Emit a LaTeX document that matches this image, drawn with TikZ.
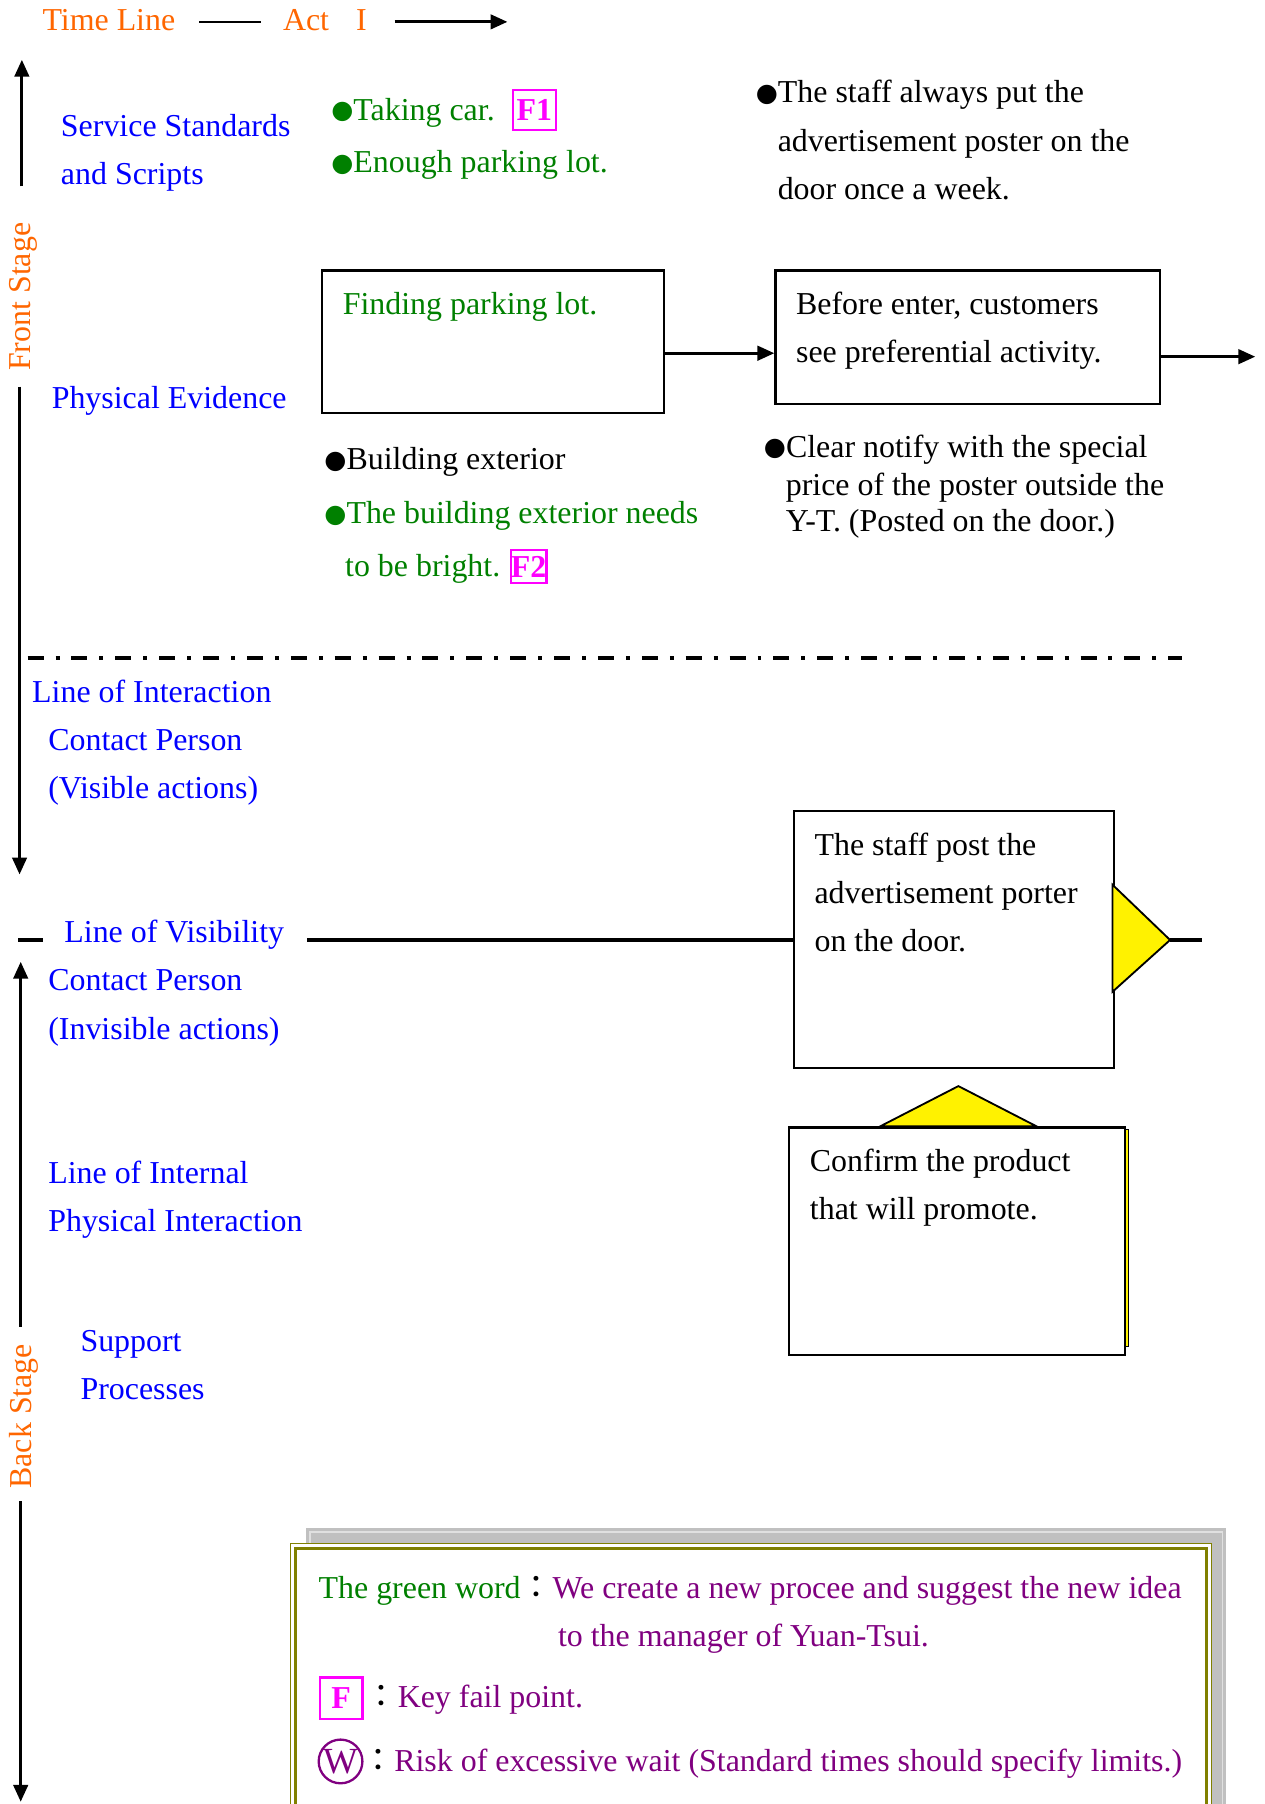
\documentclass[tikz,border=0pt]{standalone}
\usepackage{fontspec}
\setmainfont{Liberation Serif}
\newfontfamily\cjk{Noto Sans CJK TC}
\newfontfamily\sym{DejaVu Sans}
\newcommand\bul{\raisebox{0.8pt}{\sym\fontsize{16.5}{16.5}\selectfont ●}}
\usetikzlibrary{arrows.meta}

\definecolor{tlorange}{RGB}{255,102,0}
\definecolor{lblblue}{RGB}{0,0,255}
\definecolor{wgreen}{RGB}{0,128,0}
\definecolor{fmagenta}{RGB}{255,0,255}
\definecolor{legpurple}{RGB}{128,0,128}
\definecolor{legolive}{RGB}{128,128,0}
\definecolor{shadegray}{RGB}{192,192,192}

\tikzset{every picture/.style={line width=1.5pt}}
\tikzset{
  txt/.style={inner sep=0pt, anchor=west, text height=15.6pt, text depth=3.1pt},
  lbl/.style={txt, text=lblblue},
  gtxt/.style={txt, text=wgreen},
  btxt/.style={txt, text=black},
  ptxt/.style={txt, text=legpurple},
  stage/.style={inner sep=0pt, rotate=90, text=tlorange},
  box/.style={draw, fill=white, inner sep=0pt, anchor=north west, line width=1.5pt},
  fbox/.style={draw=fmagenta, text=fmagenta, line width=1.5pt, inner sep=0pt, font=\fontsize{20.8}{25}\selectfont\bfseries},
  arr/.style={-{Triangle[length=11pt,width=9.5pt]}, line width=1.8pt},
  vis/.style={line width=2pt},
  interact/.style={line width=2.6pt, dash pattern=on 10.4pt off 7.8pt on 2.6pt off 7.8pt},
  tri/.style={fill=yellow, draw=black, line width=1.2pt, line join=miter}
}

\begin{document}
\begin{tikzpicture}[x=0.75pt,y=0.75pt,yscale=-1,xscale=1, font=\fontsize{20.8}{25}\selectfont]
\useasboundingbox (0,0) rectangle (1099,1568);

% Time line
\node[txt, text=tlorange] (tl) at (36,18) {Time Line};
\node[txt, text=tlorange] (act) at (245,18) {Act\hspace{0.85em}I};
\coordinate (tl a) at (173,19);
\coordinate (tl b) at (227,19);
\coordinate (tl c) at (343,19);
\coordinate (tl d) at (441,19);
%Straight Lines
\draw (tl a) -- (tl b);
\draw[arr] (tl c) -- (tl d);

% Stage arrows
\coordinate (fs a) at (19,162);
\coordinate (fs b) at (19,52);
\coordinate (fs c) at (17,336);
\coordinate (fs d) at (17,760);
\coordinate (bs a) at (18,1153);
\coordinate (bs b) at (18,836);
\coordinate (bs c) at (18,1305);
\coordinate (bs d) at (18,1566);
\draw[arr] (fs a) -- (fs b);
\draw[arr] (fs c) -- (fs d);
\draw[arr] (bs a) -- (bs b);
\draw[arr] (bs c) -- (bs d);
\node[stage] (front) at (20,258) {Front Stage};
\node[stage] (back) at (21,1231) {Back Stage};

% Text Node
\node[lbl] (ss1) at (52,110) {Service Standards};
\node[lbl] (ss2) at (52,152) {and Scripts};
\node[lbl] (pe) at (44,347) {Physical Evidence};
\node[lbl] (loi) at (27,602) {Line of Interaction};
\node[lbl] (cp1) at (41,644) {Contact Person};
\node[lbl] (va) at (41,686) {(Visible actions)};
\node[lbl] (lov) at (55,811) {Line of Visibility};
\node[lbl] (cp2) at (41,853) {Contact Person};
\node[lbl] (iva) at (41,895) {(Invisible actions)};
\node[lbl] (lin1) at (41,1020) {Line of Internal};
\node[lbl] (lin2) at (41,1062) {Physical Interaction};
\node[lbl] (sp1) at (69,1166) {Support};
\node[lbl] (sp2) at (69,1208) {Processes};

% Text Node
\node[gtxt] (take) at (287,96) {\bul Taking car.};
\node[fbox, minimum width=27.75pt, minimum height=26pt] (fa) at (464.5,95.5) {F1};
\node[gtxt] (park) at (287,142) {\bul Enough parking lot.};
\node[btxt] (st1) at (656,81) {\bul The staff always put the};
\node[btxt] (st2) at (675,123) {advertisement poster on the};
\node[btxt] (st3) at (675,165) {door once a week.};

%Shape: Rectangle
\node[box, minimum width=222.75pt, minimum height=93pt] (b1) at (279,234) {};
\node[gtxt] (b1t) at (297,265) {Finding parking lot.};
%Shape: Rectangle
\node[box, minimum width=250.5pt, minimum height=87pt] (b2) at (673,234) {};
\node[btxt] (b2l1) at (691,265) {Before enter, customers};
\node[btxt] (b2l2) at (691,307) {see preferential activity.};
\coordinate (nx) at (1091,310);
\draw[arr] (b1.east |- b2l2) -- (b2.west |- b2l2);
\draw[arr] (b2.east |- nx) -- (nx);

% Text Node
\node[btxt] (be1) at (281,400) {\bul Building exterior};
\node[gtxt] (be2) at (281,447) {\bul The building exterior needs};
\node[gtxt] (be3) at (299,493) {to be bright.};
\node[fbox, minimum width=23.25pt, minimum height=21.75pt] (fb) at (459.5,492.5) {F2};
\node[btxt] (cn1) at (663,389) {\bul Clear notify with the special};
\node[btxt] (cn2) at (682,422) {price of the poster outside the};
\node[btxt] (cn3) at (682,454) {Y-T. (Posted on the door.)};

% Line of interaction
\coordinate (li l) at (24,572);
\coordinate (li r) at (1027,572);
\draw[interact] (li l) -- (li r);

% Line of visibility
\coordinate (vis a) at (16,817);
\coordinate (vis b) at (37,817);
\coordinate (vis l) at (267,817);
\draw[vis] (vis a) -- (vis b);
%Shape: Rectangle
\node[box, minimum width=208.5pt, minimum height=167.25pt] (b3) at (689,704) {};
\node[btxt] (b3l1) at (707,735) {The staff post the};
\node[btxt] (b3l2) at (707,777) {advertisement porter};
\node[btxt] (b3l3) at (707,819) {on the door.};
\draw[vis] (vis l) -- (b3.west |- vis l);
%Shape: Triangle
\draw[tri] (967,769) -- (1017,817) -- (967,862) -- cycle;
\coordinate (tip r) at (1017,817);
\coordinate (vis r) at (1045,817);
\draw[vis] (tip r) -- (vis r);

%Shape: Triangle
\draw[tri] (765,979) -- (833,944) -- (901,979) -- cycle;
\draw[fill=yellow, line width=0.8pt] (977,982) rectangle (981,1170);
%Shape: Rectangle
\node[box, minimum width=219pt, minimum height=148.5pt] (b4) at (685,979) {};
\node[btxt] (b4l1) at (703,1010) {Confirm the product};
\node[btxt] (b4l2) at (703,1052) {that will promote.};

% Legend
\fill[shadegray] (266,1328) rectangle (1066,1590);
\draw[white!88!black, line width=0.8pt] (269.5,1331.5) rectangle (1062.5,1590);
\draw[legolive, line width=1.2pt, fill=white] (252.5,1341.5) rectangle (1053,1590);
\draw[legolive, line width=2pt] (257,1346) rectangle (1048.5,1590);
% Text Node
\node[ptxt] (g1) at (276,1381) {{\color{wgreen}The green word}{\color{black}\cjk ：}We create a new procee and suggest the new idea};
\node[ptxt] (g2) at (484,1423) {to the manager of Yuan-Tsui.};
\node[fbox, minimum width=27.75pt, minimum height=27pt] (fk) at (296.5,1476) {F};
\node[ptxt] (kf) at (317,1476) {{\color{black}\cjk ：}Key fail point.};
\node[circle, draw=legpurple, text=legpurple, line width=1.5pt, minimum size=28.5pt, inner sep=0pt, font=\fontsize{24}{28}\selectfont] (wk) at (296,1531) {W};
\node[ptxt] (rw) at (314,1531) {{\color{black}\cjk ：}Risk of excessive wait (Standard times should specify limits.)};

\end{tikzpicture}
\end{document}
